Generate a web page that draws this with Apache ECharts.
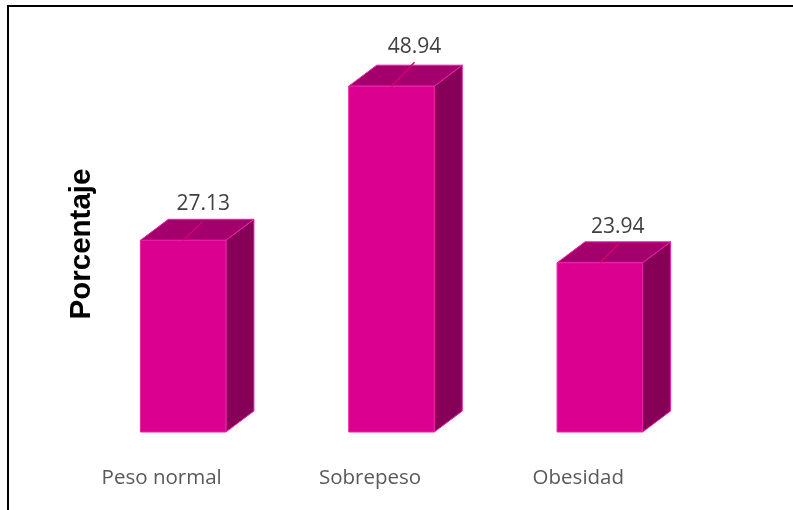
<!DOCTYPE html>
<html><head><meta charset="utf-8">
<style>html,body{margin:0;padding:0;background:#fff}#c{width:793px;height:510px}</style>
<script src="https://cdn.jsdelivr.net/npm/echarts@6/dist/echarts.min.js"></script>
</head><body><div id="c"></div>
<script>
const categories = ['Peso normal', 'Sobrepeso', 'Obesidad'];
const values = [27.13, 48.94, 23.94];
const yAxisName = 'Porcentaje';
const leaderOffsets = [[20, -19], [23, -24], [19, -19]];
const labelOffsets = [[20, -36], [23, -39], [18, -36]];
const FRONT = '#dc0090', TOP = '#a3006e', SIDE = '#860058', EDGE = '#f01ea8', LEADER = '#d4006f';
const DX = 28, DY = -21, BARW = 85.5;
const chart = echarts.init(document.getElementById('c'), null, {renderer: 'canvas'});
function renderBar(params, api) {
  const i = params.dataIndex;
  const c = api.coord([api.value(0), api.value(1)]);
  const base = api.coord([api.value(0), 0]);
  const l = c[0] - BARW / 2, r = l + BARW, t = c[1], b = base[1];
  const st = {stroke: EDGE, lineWidth: 1, lineJoin: 'round'};
  const poly = (pts, fill) => ({type: 'polygon', shape: {points: pts}, style: Object.assign({fill}, st)});
  const mx = (l + r) / 2;
  return {type: 'group', children: [
    poly([[r, t], [r + DX, t + DY], [r + DX, b + DY], [r, b]], SIDE),
    poly([[l, t], [l + DX, t + DY], [r + DX, t + DY], [r, t]], TOP),
    poly([[l, t], [r, t], [r, b], [l, b]], FRONT),
    {type: 'line', shape: {x1: mx, y1: t, x2: mx + leaderOffsets[i][0], y2: t + leaderOffsets[i][1]},
      style: {stroke: LEADER, lineWidth: 1.5}},
    {type: 'text', style: {text: api.value(1).toFixed(2), x: mx + labelOffsets[i][0], y: t + labelOffsets[i][1],
      align: 'center', verticalAlign: 'middle', fill: '#404040', font: '21px "Open Sans"'}}
  ]};
}
chart.setOption({
  animation: false,
  backgroundColor: '#fff',
  grid: {left: 79, width: 625, top: 8, height: 424},
  xAxis: {type: 'category', data: categories, axisLine: {show: false}, axisTick: {show: false},
    axisLabel: {color: '#595959', fontFamily: 'Open Sans', fontSize: 20.5, margin: 36, padding: [0, 43, 0, 0]}},
  yAxis: {type: 'value', min: 0, max: 60, show: false},
  series: [{type: 'custom', renderItem: renderBar, encode: {x: 0, y: 1}, clip: false,
    data: categories.map((n, i) => [i, values[i]])}],
  graphic: [
    {type: 'polyline', shape: {points: [[8, 510], [8, 6], [793, 6]]}, style: {fill: 'none', stroke: '#000', lineWidth: 2}, z: 10},
    {type: 'text', rotation: Math.PI / 2, x: 82, y: 244, style: {text: yAxisName, align: 'center', verticalAlign: 'middle',
      fill: '#000', font: 'bold 29.5px "Liberation Sans"'}}
  ]
});
</script></body></html>
